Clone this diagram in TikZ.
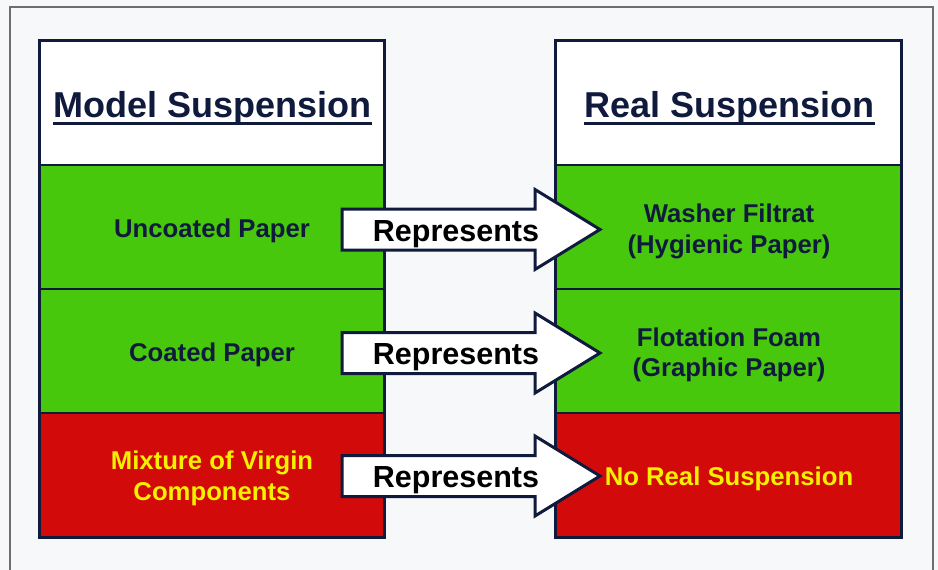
\documentclass[tikz,border=0pt]{standalone}
\usepackage{fontspec}
\setmainfont{Liberation Sans}
\definecolor{navy}{HTML}{101A3C}
\definecolor{cellgreen}{HTML}{48C80C}
\definecolor{cellred}{HTML}{D20A0A}
\definecolor{txtyellow}{HTML}{F4F000}
\definecolor{framegray}{HTML}{6E6E6E}
\definecolor{paper}{HTML}{F6F8FA}
\tikzset{
  cell/.style={draw=navy, line width=1.4pt, minimum width=344pt, minimum height=124pt, inner sep=0pt},
  greencell/.style={cell, fill=cellgreen},
  redcell/.style={cell, fill=cellred},
  headcell/.style={cell, fill=white},
  headtxt/.style={anchor=base, inner sep=0pt, text=navy, font=\bfseries\fontsize{36}{40}\selectfont},
  rowtxt/.style={anchor=base, inner sep=0pt, text=navy, font=\bfseries\fontsize{25.7}{30}\selectfont},
  redtxt/.style={rowtxt, text=txtyellow},
  reptxt/.style={anchor=base, inner sep=0pt, text=black, font=\bfseries\fontsize{30.5}{36}\selectfont},
  blockarrow/.style={draw=navy, fill=white, line width=3pt, line join=miter},
  outline/.style={draw=navy, line width=3pt}
}
\begin{document}
\begin{tikzpicture}[x=1pt,y=-1pt]
\useasboundingbox (0,0) rectangle (938,570);
\fill[paper] (0,0) rectangle (938,570);
\draw[framegray, line width=1.2pt] (10,572) |- (933,7) -- (933,572);

% left column
\node[headcell]  (lh) at (212,103) {};
\node[greencell] (l1) at (212,227) {};
\node[greencell] (l2) at (212,351) {};
\node[redcell]   (l3) at (212,475) {};
\draw[outline] (lh.north west) rectangle (l3.south east);

% right column
\node[headcell]  (rh) at (728.5,103) {};
\node[greencell] (r1) at (728.5,227) {};
\node[greencell] (r2) at (728.5,351) {};
\node[redcell]   (r3) at (728.5,475) {};
\draw[outline] (rh.north west) rectangle (r3.south east);

% arrows
\foreach \c/\n in {229.5/a1, 353/a2, 476/a3}{
  \draw[blockarrow] (342,\c-20.5) -- (535,\c-20.5) -- (535,\c-40) -- (600,\c)
     -- (535,\c+40) -- (535,\c+20.5) -- (342,\c+20.5) -- cycle;
}
\node[reptxt] (t1) at (456,241) {Represents};
\node[reptxt] (t2) at (456,364) {Represents};
\node[reptxt] (t3) at (456,487) {Represents};

% headers
\node[headtxt] (mh) at (212.5,117) {Model Suspension};
\draw[navy, line width=3pt] ([yshift=-6pt]mh.base west) -- ([yshift=-6pt]mh.base east);
\node[headtxt] (rht) at (729.5,117) {Real Suspension};
\draw[navy, line width=3pt] ([yshift=-6pt]rht.base west) -- ([yshift=-6pt]rht.base east);

% left texts
\node[rowtxt] (u1) at (212,237) {Uncoated Paper};
\node[rowtxt] (u2) at (212,361) {Coated Paper};
\node[redtxt] (u3a) at (212,469) {Mixture of Virgin};
\node[redtxt] (u3b) at (212,500) {Components};

% right texts
\node[rowtxt] (v1a) at (729,222) {Washer Filtrat};
\node[rowtxt] (v1b) at (729,253) {(Hygienic Paper)};
\node[rowtxt] (v2a) at (729,346) {Flotation Foam};
\node[rowtxt] (v2b) at (729,376) {(Graphic Paper)};
\node[redtxt] (v3) at (729,485) {No Real Suspension};
\end{tikzpicture}
\end{document}
